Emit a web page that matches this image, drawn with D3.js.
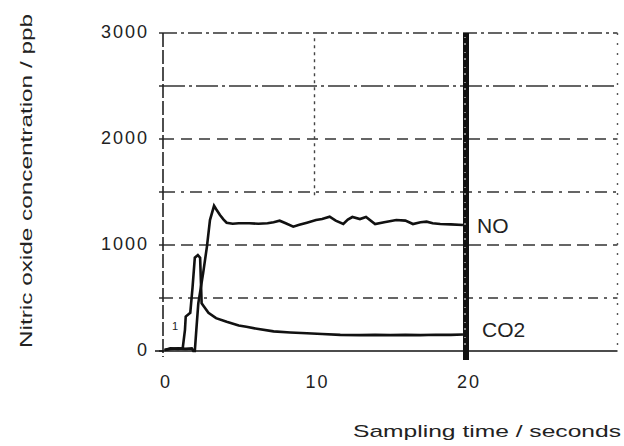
<!DOCTYPE html>
<html>
<head>
<meta charset="utf-8">
<script src="https://cdn.jsdelivr.net/npm/d3@7"></script>
<style>
  body { margin: 0; background: #fff; }
  text { font-family: "Liberation Sans", Arial, sans-serif; fill: #222; }
</style>
</head>
<body>
<div id="wrapper"></div>
<script>
// Data (time in seconds, concentration in ppb)
const noTime = [0.1, 0.5, 1.0, 1.5, 1.9, 2.0, 2.1, 2.2, 2.33, 2.5, 2.65, 2.9, 3.1, 3.37, 3.5, 3.76, 4.0, 4.2, 4.6, 5.0, 5.7, 6.3, 6.9, 7.3, 7.7, 8.1, 8.6, 9.0, 9.5, 10.1, 10.5, 11.0, 11.4, 11.9, 12.2, 12.5, 13.0, 13.4, 14.0, 14.6, 15.4, 16.0, 16.5, 17.0, 17.4, 17.8, 18.3, 19.0, 19.8]
const noValue = [10, 20, 25, 20, 25, 0, 0, 200, 450, 600, 735, 985, 1235, 1370, 1340, 1283, 1240, 1210, 1200, 1205, 1205, 1200, 1205, 1215, 1229, 1205, 1173, 1190, 1210, 1236, 1245, 1267, 1230, 1198, 1240, 1264, 1245, 1264, 1198, 1215, 1236, 1230, 1198, 1215, 1220, 1205, 1198, 1195, 1189]

const co2Time = [0.1, 0.5, 1.0, 1.3, 1.45, 1.5, 1.8, 1.95, 2.1, 2.3, 2.45, 2.55, 2.7, 3.0, 3.5, 4.2, 5.0, 5.5, 6.2, 7.3, 8.4, 9.5, 10.5, 11.7, 13, 14, 15, 16, 17, 18, 19, 19.8]
const co2Value = [10, 25, 20, 25, 200, 325, 360, 600, 880, 905, 880, 450, 420, 360, 310, 275, 240, 228, 210, 185, 175, 167, 160, 152, 150, 152, 150, 152, 150, 153, 152, 155]

const yTicks = [0, 1000, 2000, 3000]
const yGrid = [500, 1000, 1500, 2000, 2500]
const xTicks = [0, 10, 20]
const seriesLabels = [
	{ name: 'NO', t: 20, v: 1220 },
	{ name: 'CO2', t: 20, v: 240 }
]

const width = 624
const height = 446

const svg = d3.select('#wrapper')
	.append('svg')
		.attr('width', width)
		.attr('height', height)

const xScale = d3.scaleLinear()
	.domain([0, 30])
	.range([163, 617.5])

const yScale = d3.scaleLinear()
	.domain([0, 3000])
	.range([351, 33])

// Grid
const dashes = {
	500: '10,6,3,6',
	1000: '12,6',
	1500: '12,6,3,6',
	2000: '11,7',
	2500: '22,4,3,4'
}
svg.append('g')
	.selectAll('line')
	.data(yGrid)
	.join('line')
		.attr('x1', xScale(0))
		.attr('x2', xScale(30))
		.attr('y1', d => yScale(d))
		.attr('y2', d => yScale(d))
		.attr('stroke', '#333')
		.attr('stroke-width', 1.6)
		.attr('stroke-dasharray', d => dashes[d])

// top border
svg.append('line')
	.attr('x1', xScale(0)).attr('x2', xScale(30))
	.attr('y1', yScale(3000)).attr('y2', yScale(3000))
	.attr('stroke', '#333').attr('stroke-width', 1.6)
	.attr('stroke-dasharray', '14,4,3,4')

// right border
svg.append('line')
	.attr('x1', xScale(30)).attr('x2', xScale(30))
	.attr('y1', yScale(3000)).attr('y2', yScale(0))
	.attr('stroke', '#555').attr('stroke-width', 1.4)
	.attr('stroke-dasharray', '2,8')

// vertical grid at 10 s (only visible in the upper half)
svg.append('line')
	.attr('x1', xScale(10)).attr('x2', xScale(10))
	.attr('y1', yScale(2950)).attr('y2', yScale(1450))
	.attr('stroke', '#444').attr('stroke-width', 1.4)
	.attr('stroke-dasharray', '3,4')

// y axis
svg.append('line')
	.attr('x1', xScale(0)).attr('x2', xScale(0))
	.attr('y1', yScale(3000)).attr('y2', yScale(0) + 6)
	.attr('stroke', '#222').attr('stroke-width', 1.6)
	.attr('stroke-dasharray', '14,3')

svg.append('g')
	.selectAll('line')
	.data(yGrid.concat([0, 3000]))
	.join('line')
		.attr('x1', xScale(0) - 4)
		.attr('x2', xScale(0))
		.attr('y1', d => yScale(d))
		.attr('y2', d => yScale(d))
		.attr('stroke', '#222')
		.attr('stroke-width', 1.4)

// x axis baseline
svg.append('line')
	.attr('x1', xScale(0) - 8).attr('x2', xScale(30))
	.attr('y1', yScale(0)).attr('y2', yScale(0))
	.attr('stroke', '#111').attr('stroke-width', 1.6)

// Tick labels
svg.append('g')
	.selectAll('text')
	.data(yTicks)
	.join('text')
		.attr('x', 149)
		.attr('y', d => yScale(d) + 5)
		.attr('text-anchor', 'end')
		.attr('font-size', 18)
		.attr('letter-spacing', 2)
		.text(d => d)

svg.append('g')
	.selectAll('text')
	.data(xTicks)
	.join('text')
		.attr('x', d => xScale(d) + 3)
		.attr('y', 388)
		.attr('text-anchor', 'middle')
		.attr('font-size', 18)
		.attr('letter-spacing', 2)
		.text(d => d)

// Curves
const line = d3.line()
	.x(d => xScale(d[0]))
	.y(d => yScale(d[1]))

const noData = d3.zip(noTime, noValue)
const co2Data = d3.zip(co2Time, co2Value)

svg.append('path')
	.datum(co2Data)
	.attr('d', line)
	.attr('fill', 'none')
	.attr('stroke', '#111')
	.attr('stroke-width', 2.6)

svg.append('path')
	.datum(noData)
	.attr('d', line)
	.attr('fill', 'none')
	.attr('stroke', '#111')
	.attr('stroke-width', 2.6)

// thick marker at 20 s
svg.append('line')
	.attr('x1', xScale(20)).attr('x2', xScale(20))
	.attr('y1', yScale(3000)).attr('y2', yScale(0) + 9)
	.attr('stroke', '#111').attr('stroke-width', 6)
svg.append('line')
	.attr('x1', xScale(20) - 1).attr('x2', xScale(20) - 1)
	.attr('y1', yScale(3000) + 4).attr('y2', yScale(0))
	.attr('stroke', '#fff').attr('stroke-width', 1)
	.attr('stroke-dasharray', '1,5,2,7')

// Series labels
svg.append('g')
	.selectAll('text')
	.data(seriesLabels)
	.join('text')
		.attr('x', d => xScale(d.t) + (d.name === 'NO' ? 11 : 16))
		.attr('y', (d, i) => i === 0 ? 233 : 337)
		.attr('font-size', 21)
		.text(d => d.name)

// small "1" marker near start
svg.append('text')
	.attr('x', xScale(0.6))
	.attr('y', yScale(200))
	.attr('font-size', 11)
	.text('1')

// Axis titles
svg.append('text')
	.attr('transform', 'translate(32,181) rotate(-90)')
	.attr('text-anchor', 'middle')
	.attr('font-size', 17)
	.attr('textLength', 334)
	.attr('lengthAdjust', 'spacingAndGlyphs')
	.text('Nitric oxide concentration / ppb')

svg.append('text')
	.attr('x', 353)
	.attr('y', 437)
	.attr('font-size', 17)
	.attr('textLength', 268)
	.attr('lengthAdjust', 'spacingAndGlyphs')
	.text('Sampling time / seconds')
</script>
</body>
</html>
